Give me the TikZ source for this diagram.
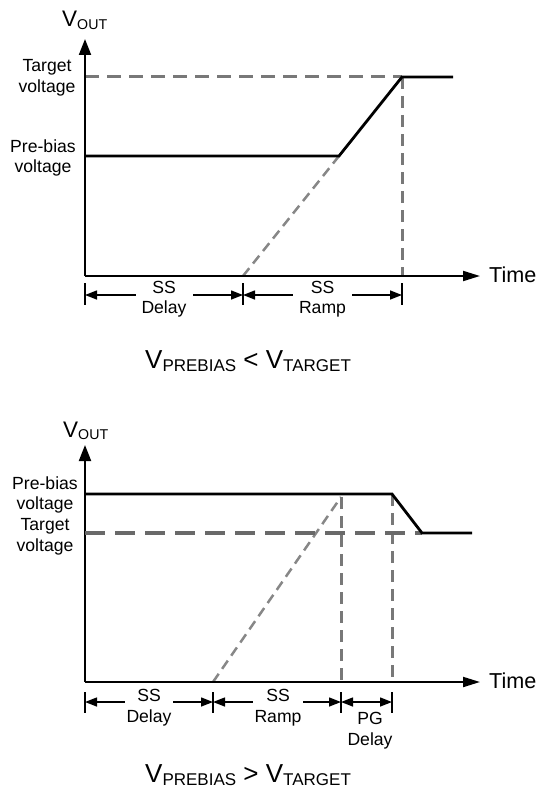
\documentclass[tikz,border=0pt]{standalone}
\usepackage{fontspec}
\setmainfont{Liberation Sans}
\usetikzlibrary{arrows.meta}
\definecolor{dgray}{RGB}{120,120,120}
\definecolor{dgrayb}{RGB}{105,105,105}
\definecolor{lgray}{RGB}{135,135,135}
\begin{document}
\begin{tikzpicture}[x=1pt,y=-1pt,
  axis/.style={line width=2pt, black},
  yarr/.style={axis, -{Triangle[length=16pt,width=12pt]}},
  xarr/.style={axis, -{Triangle[length=17pt,width=10pt]}},
  sig/.style={line width=2.8pt, black, line join=miter},
  tgt/.style={line width=3pt, dgray, dash pattern=on 14pt off 8pt},
  tgtb/.style={line width=4.2pt, dgrayb, dash pattern=on 20pt off 10pt},
  rmp/.style={line width=2.5pt, lgray, dash pattern=on 10pt off 6pt},
  vdash/.style={line width=3pt, dgray, dash pattern=on 12pt off 7pt},
  dimarr/.style={line width=1.4pt, {Triangle[length=12pt,width=9pt]}-{Triangle[length=12pt,width=9pt]}},
  tickm/.style={line width=1.4pt},
  lbl/.style={font=\fontsize{17.6}{20.5}\selectfont, align=center, inner sep=0pt},
  dlbl/.style={lbl, fill=white, inner xsep=6pt, inner ysep=1pt},
  dlblb/.style={lbl, fill=white, inner xsep=1.5pt, inner ysep=1pt},
  voutlbl/.style={anchor=base west, inner sep=0pt, font=\fontsize{22.5}{27}\selectfont},
  timelbl/.style={anchor=base west, inner sep=0pt, font=\fontsize{21.6}{26}\selectfont},
  caplbl/.style={anchor=base west, inner sep=0pt, font=\fontsize{26}{31}\selectfont},
]
\useasboundingbox (0,0) rectangle (537,789);

% ================= top diagram =================
\coordinate (O1) at (85,276);
\coordinate (Y1) at (85,39);
\coordinate (X1) at (480,276);
\coordinate (T1L) at (85,77);
\coordinate (T1) at (402,77);
\coordinate (E1) at (453,77);
\coordinate (P1L) at (85,156);
\coordinate (K1) at (339,156);
\coordinate (R1) at (243,276);
\coordinate (B1) at (402,276);
\coordinate (m1a) at (85,295);
\coordinate (m1b) at (243,295);
\coordinate (m1c) at (402,295);

\draw[tgt] (T1L) -- (T1);
\draw[vdash] (T1) -- (B1);
\draw[rmp] (R1) -- (K1);
\draw[yarr] (O1) -- (Y1);
\draw[xarr] (O1) -- (X1);
\draw[sig] (P1L) -- (K1) -- (T1) -- (E1);

\foreach \m in {m1a,m1b,m1c} \draw[tickm] (\m) ++(0,-12) -- ++(0,22);
\draw[dimarr] (m1a) -- (m1b);
\draw[dimarr] (m1b) -- (m1c);
\node[dlbl] (ssd1) at (164,299) {SS\\Delay};
\node[dlbl] (ssr1) at (322.5,299) {SS\\Ramp};

\node[voutlbl] (vout1) at (62,27) {V\raisebox{-2.5pt}{\fontsize{14.2}{17}\selectfont OUT}};
\node[lbl] (tv1) at (47,78) {Target\\voltage};
\node[lbl] (pv1) at (43,158) {Pre-bias\\voltage};
\node[timelbl] (time1) at (489,282) {Time};
\node[caplbl] (cap1) at (145,368) {V\raisebox{-3.5pt}{\fontsize{17}{20}\selectfont PREBIAS} < V\raisebox{-3.5pt}{\fontsize{17}{20}\selectfont TARGET}};

% ================= bottom diagram =================
\coordinate (O2) at (85,682);
\coordinate (Y2) at (85,445);
\coordinate (X2) at (480,682);
\coordinate (P2L) at (85,494);
\coordinate (K2) at (392,494);
\coordinate (T2) at (422,533);
\coordinate (E2) at (472,533);
\coordinate (T2L) at (85,533);
\coordinate (R2) at (213,682);
\coordinate (R2E) at (341,497);
\coordinate (B2a) at (341,682);
\coordinate (B2b) at (392,682);
\coordinate (m2a) at (85,702);
\coordinate (m2b) at (213,702);
\coordinate (m2c) at (341,702);
\coordinate (m2d) at (392,702);

\draw[rmp] (R2) -- (R2E);
\draw[vdash] (R2E) -- (B2a);
\draw[vdash] (K2) -- (B2b);
\draw[yarr] (O2) -- (Y2);
\draw[xarr] (O2) -- (X2);
\draw[tgtb] (T2L) -- (T2);
\draw[sig] (P2L) -- (K2) -- (T2) -- (E2);

\foreach \m in {m2a,m2b,m2c,m2d} \draw[tickm] (\m) ++(0,-10) -- ++(0,21);
\draw[dimarr] (m2a) -- (m2b);
\draw[dimarr] (m2b) -- (m2c);
\draw[dimarr] (m2c) -- (m2d);
\node[dlblb] (ssd2) at (149,707.5) {SS\\Delay};
\node[dlblb] (ssr2) at (278,707.5) {SS\\Ramp};
\node[lbl] (pgd2) at (370,730.5) {PG\\Delay};

\node[voutlbl] (vout2) at (63,437) {V\raisebox{-2.5pt}{\fontsize{14.2}{17}\selectfont OUT}};
\node[lbl] (pv2) at (45,495) {Pre-bias\\voltage};
\node[lbl] (tv2) at (45,537) {Target\\voltage};
\node[timelbl] (time2) at (489,688) {Time};
\node[caplbl] (cap2) at (145,782) {V\raisebox{-3.5pt}{\fontsize{17}{20}\selectfont PREBIAS} > V\raisebox{-3.5pt}{\fontsize{17}{20}\selectfont TARGET}};
\end{tikzpicture}
\end{document}
